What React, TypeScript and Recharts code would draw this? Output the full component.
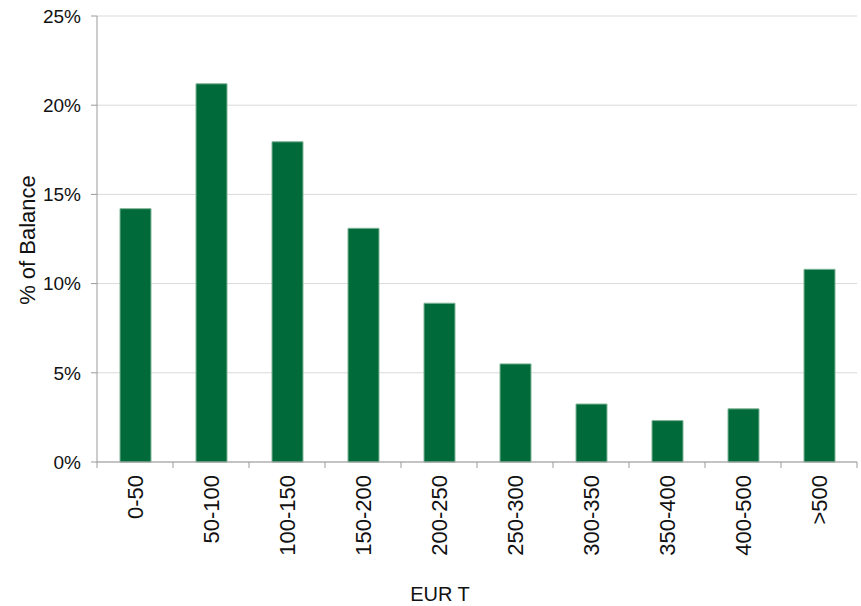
import { BarChart, Bar, XAxis, YAxis, CartesianGrid } from 'recharts';

const categories = ['0-50', '50-100', '100-150', '150-200', '200-250', '250-300', '300-350', '350-400', '400-500', '>500'];
const balanceShare = [14.2, 21.2, 17.95, 13.1, 8.9, 5.5, 3.25, 2.32, 2.98, 10.8];
const yTicks = [0, 5, 10, 15, 20, 25];

const data = categories.map((band, i) => ({ band, share: balanceShare[i] }));

const FONT = '"Liberation Sans", Arial, sans-serif';
const AXIS_GREY = '#9a9a9a';

const BandTick = (props: any) => {
  const { x, y, payload, index, visibleTicksCount } = props;
  const half = payload.offset ?? 38;
  const axisY = y - 8;
  const last = index === visibleTicksCount - 1;
  return (
    <g>
      <line x1={x - half} y1={axisY} x2={x - half} y2={axisY + 6} stroke={AXIS_GREY} />
      {last && <line x1={x + half} y1={axisY} x2={x + half} y2={axisY + 6} stroke={AXIS_GREY} />}
      <text
        x={x}
        y={axisY + 13}
        transform={`rotate(-90, ${x}, ${axisY + 13})`}
        textAnchor="end"
        dy="0.36em"
        fontSize={22}
        fontFamily={FONT}
        fill="#111"
      >
        {payload.value}
      </text>
    </g>
  );
};

export default function App() {
  return (
    <div style={{ position: 'absolute', left: 0, top: 0, background: '#fff' }}>
      <BarChart
        width={861}
        height={606}
        data={data}
        margin={{ top: 16, right: 4, left: 0, bottom: 0 }}
        barSize={31}
      >
        <CartesianGrid vertical={false} stroke="#d9d9d9" />
        <XAxis
          dataKey="band"
          height={144}
          interval={0}
          tickLine={false}
          axisLine={{ stroke: AXIS_GREY }}
          tick={<BandTick />}
          label={{
            content: () => (
              <text x={440} y={601} textAnchor="middle" fontSize={20} fontFamily={FONT} fill="#111">
                EUR T
              </text>
            ),
          }}
        />
        <YAxis
          width={97}
          domain={[0, 25]}
          ticks={yTicks}
          interval={0}
          tickFormatter={(v: number) => `${v}%`}
          tickSize={6}
          tickMargin={10}
          tickLine={{ stroke: AXIS_GREY }}
          axisLine={{ stroke: AXIS_GREY }}
          tick={{ fontSize: 19, fontFamily: FONT, fill: '#111' }}
          label={{
            content: () => (
              <text
                x={27}
                y={240}
                transform="rotate(-90, 27, 240)"
                textAnchor="middle"
                dy="0.36em"
                fontSize={22}
                fontFamily={FONT}
                fill="#111"
              >
                % of Balance
              </text>
            ),
          }}
        />
        <Bar dataKey="share" fill="#006a3b" stroke="#7fb596" strokeWidth={1} isAnimationActive={false} />
      </BarChart>
    </div>
  );
}
